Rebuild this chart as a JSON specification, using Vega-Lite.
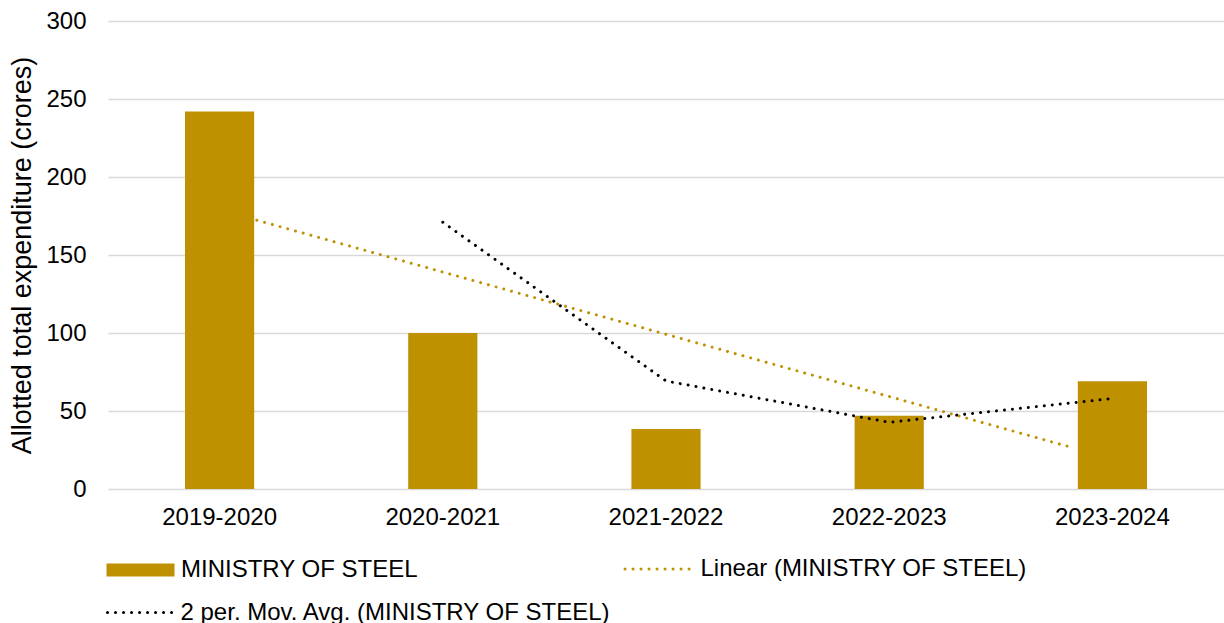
{
  "$schema": "https://vega.github.io/schema/vega-lite/v6.json",
  "width": 1116,
  "height": 468,
  "autosize": {"type": "none"},
  "padding": {"left": 108, "top": 21, "right": 0, "bottom": 134},
  "background": "white",
  "config": {
    "font": "Liberation Sans",
    "view": {"stroke": null},
    "axis": {"labelFont": "Liberation Sans", "titleFont": "Liberation Sans", "labelColor": "#000000", "titleColor": "#000000"},
    "legend": {"labelFont": "Liberation Sans", "labelFontSize": 24, "labelColor": "#000000", "padding": 0, "title": null, "labelLimit": 0}
  },
  "datasets": {
    "bars": [
      {"year": "2019-2020", "value": 242, "series": "MINISTRY OF STEEL"},
      {"year": "2020-2021", "value": 100, "series": "MINISTRY OF STEEL"},
      {"year": "2021-2022", "value": 38.5, "series": "MINISTRY OF STEEL"},
      {"year": "2022-2023", "value": 47, "series": "MINISTRY OF STEEL"},
      {"year": "2023-2024", "value": 69, "series": "MINISTRY OF STEEL"}
    ],
    "linear": [
      {"pos": 1.167, "value": 172.3, "series": "Linear (MINISTRY OF STEEL)"},
      {"pos": 4.831, "value": 26.1, "series": "Linear (MINISTRY OF STEEL)"}
    ],
    "movavg": [
      {"year": "2020-2021", "value": 171, "series": "2 per. Mov. Avg. (MINISTRY OF STEEL)"},
      {"year": "2021-2022", "value": 69.25, "series": "2 per. Mov. Avg. (MINISTRY OF STEEL)"},
      {"year": "2022-2023", "value": 42.75, "series": "2 per. Mov. Avg. (MINISTRY OF STEEL)"},
      {"year": "2023-2024", "value": 58, "series": "2 per. Mov. Avg. (MINISTRY OF STEEL)"}
    ]
  },
  "layer": [
    {
      "data": {"name": "bars"},
      "mark": {"type": "bar", "width": {"band": 0.31}},
      "encoding": {
        "x": {
          "field": "year", "type": "nominal", "sort": null,
          "scale": {"paddingInner": 0, "paddingOuter": 0},
          "axis": {"title": null, "labelAngle": 0, "labelFontSize": 24, "labelPadding": 16, "ticks": false, "domain": false, "grid": false}
        },
        "y": {
          "field": "value", "type": "quantitative",
          "scale": {"domain": [0, 300]},
          "axis": {
            "title": "Allotted total expenditure (crores)", "titleFontSize": 27, "titleFontWeight": "normal", "titlePadding": 9,
            "values": [0, 50, 100, 150, 200, 250, 300], "labelFontSize": 24, "labelPadding": 22,
            "ticks": false, "domain": false, "grid": true, "gridColor": "#D9D9D9", "gridWidth": 1.5
          }
        },
        "color": {
          "field": "series", "type": "nominal",
          "scale": {"range": ["#BF9000"]},
          "legend": {
            "orient": "none", "legendX": -7, "legendY": 537,
            "symbolType": "M-1,-1H9.46V1H-1Z", "symbolSize": 169, "symbolStrokeWidth": 0,
            "symbolFillColor": "#BF9000", "labelOffset": 56
          }
        }
      }
    },
    {
      "data": {"name": "linear"},
      "mark": {"type": "line", "strokeWidth": 3, "strokeCap": "round", "strokeDash": [0.01, 8]},
      "encoding": {
        "x": {"field": "pos", "type": "quantitative", "scale": {"domain": [0.5, 5.5], "nice": false, "zero": false}, "axis": null},
        "y": {"field": "value", "type": "quantitative", "scale": {"domain": [0, 300]}},
        "color": {
          "field": "series", "type": "nominal",
          "scale": {"range": ["#BF9000"]},
          "legend": {
            "orient": "none", "legendX": 511.5, "legendY": 536,
            "symbolType": "M-1,0H9.46", "symbolSize": 169, "symbolStrokeWidth": 3, "symbolDash": [0.01, 8],
            "symbolStrokeColor": "#BF9000", "labelOffset": 57,
            "encoding": {"symbols": {"strokeCap": {"value": "round"}}}
          }
        }
      }
    },
    {
      "data": {"name": "movavg"},
      "mark": {"type": "line", "strokeWidth": 3, "strokeCap": "round", "strokeJoin": "round", "strokeDash": [0.01, 8], "interpolate": "linear"},
      "encoding": {
        "x": {
          "field": "year", "type": "nominal",
          "scale": {"domain": ["2019-2020", "2020-2021", "2021-2022", "2022-2023", "2023-2024"], "paddingInner": 0, "paddingOuter": 0},
          "axis": null
        },
        "y": {"field": "value", "type": "quantitative", "scale": {"domain": [0, 300]}},
        "color": {
          "field": "series", "type": "nominal",
          "scale": {"range": ["#000000"]},
          "legend": {
            "orient": "none", "legendX": -6, "legendY": 579.5,
            "symbolType": "M-1,0H9.46", "symbolSize": 169, "symbolStrokeWidth": 3, "symbolDash": [0.01, 8],
            "symbolStrokeColor": "#000000", "labelOffset": 54.5,
            "encoding": {"symbols": {"strokeCap": {"value": "round"}}}
          }
        }
      }
    }
  ],
  "resolve": {"scale": {"x": "independent", "color": "independent"}}
}
